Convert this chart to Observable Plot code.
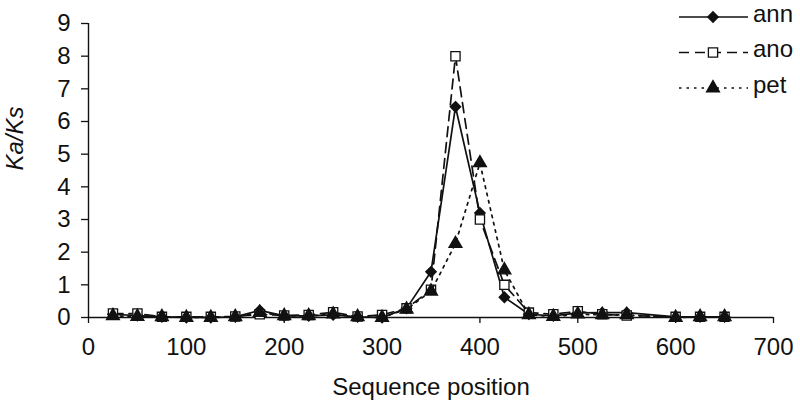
<!DOCTYPE html>
<html>
<head>
<meta charset="utf-8">
<script src="https://cdn.jsdelivr.net/npm/d3@7"></script>
<script src="https://cdn.jsdelivr.net/npm/@observablehq/plot@0.6"></script>
<style>
  html, body { margin: 0; padding: 0; background: #fff; }
  #wrap { position: relative; width: 800px; height: 404px; font-family: "Liberation Sans", Arial, sans-serif; }
  #wrap svg { display: block; }
</style>
</head>
<body>
<div id="wrap"></div>
<script>
// ---- data ----
const positions = [25,50,75,100,125,150,175,200,225,250,275,300,325,350,375,400,425,450,475,500,525,550,600,625,650];
const ann = [0.10,0.06,0.02,0.00,0.00,0.02,0.22,0.05,0.05,0.08,0.02,0.00,0.28,1.40,6.45,3.20,0.62,0.10,0.05,0.14,0.15,0.15,0.02,0.02,0.02];
const ano = [0.12,0.12,0.02,0.02,0.02,0.03,0.10,0.06,0.08,0.16,0.03,0.08,0.28,0.85,8.00,3.00,1.00,0.15,0.10,0.19,0.10,0.06,0.02,0.02,0.02];
const pet = [0.05,0.03,0.02,0.00,0.00,0.02,0.15,0.05,0.05,0.10,0.02,0.00,0.25,0.80,2.26,4.73,1.45,0.08,0.03,0.10,0.08,0.08,0.00,0.02,0.02];
const seriesNames = ["ann","ano","pet"];
const xTicks = [0,100,200,300,400,500,600,700];
const yTicks = [0,1,2,3,4,5,6,7,8,9];
const xLabel = "Sequence position";
const yLabel = "Ka/Ks";

const values = {ann, ano, pet};
const styles = {
  ann: {dash: null, symbol: "diamond2", d3symbol: d3.symbolDiamond2, fill: "#111", r: 4.7},
  ano: {dash: "10,6", symbol: "square", d3symbol: d3.symbolSquare, fill: "#fff", r: 5.2},
  pet: {dash: "2.5,5", symbol: "triangle", d3symbol: d3.symbolTriangle, fill: "#111", r: 4.8}
};
const ink = "#111";

const rows = seriesNames.flatMap(s => positions.map((x, i) => ({series: s, x, y: values[s][i]})));

const seriesMarks = seriesNames.flatMap(s => {
  const data = rows.filter(d => d.series === s);
  const st = styles[s];
  return [
    Plot.line(data, {x: "x", y: "y", stroke: ink, strokeWidth: 1.7, strokeDasharray: st.dash}),
    Plot.dot(data, {x: "x", y: "y", symbol: () => st.symbol, r: st.r, fill: st.fill, stroke: ink, strokeWidth: 1.3})
  ];
});

const chart = Plot.plot({
  width: 800,
  height: 404,
  marginLeft: 88,
  marginRight: 27,
  marginTop: 23,
  marginBottom: 87,
  style: {fontFamily: "'Liberation Sans', Arial, sans-serif", fontSize: "24px", color: ink, background: "#fff"},
  x: {domain: [0, 700]},
  y: {domain: [0, 9]},
  symbol: {type: "identity"},
  marks: [
    Plot.axisX({ticks: xTicks, tickSize: 6, tickPadding: 14, label: null, tickFormat: d => String(d), stroke: ink, strokeWidth: 1.3}),
    Plot.axisY({ticks: yTicks, tickSize: 7, tickPadding: 11, label: null, tickFormat: d => String(d), stroke: ink, strokeWidth: 1.3}),
    Plot.ruleY([0], {stroke: ink, strokeWidth: 1.4}),
    Plot.ruleX([0], {stroke: ink, strokeWidth: 1.4}),
    ...seriesMarks,
    Plot.text([xLabel], {frameAnchor: "bottom", dy: 77, lineAnchor: "bottom", fontSize: 24, fill: ink}),
    Plot.text([yLabel], {frameAnchor: "left", dx: -73, rotate: -90, lineAnchor: "middle", fontSize: 24, fontStyle: "italic", fill: ink})
  ]
});

const wrap = document.getElementById("wrap");
wrap.appendChild(chart);

// ---- legend (overlay) ----
const leg = d3.select(wrap).append("svg")
  .attr("width", 800).attr("height", 404)
  .style("position", "absolute").style("left", "0px").style("top", "0px")
  .style("pointer-events", "none");
seriesNames.forEach((s, i) => {
  const st = styles[s];
  const g = leg.append("g").attr("transform", `translate(0,${17 + i * 35.5})`);
  g.append("line").attr("x1", 679).attr("x2", 748).attr("y1", 0).attr("y2", 0)
    .attr("stroke", ink).attr("stroke-width", 1.7)
    .attr("stroke-dasharray", st.dash);
  g.append("path")
    .attr("d", d3.symbol(st.d3symbol, Math.PI * st.r * st.r)())
    .attr("transform", "translate(713,0)")
    .attr("fill", st.fill).attr("stroke", ink).attr("stroke-width", 1.3);
  g.append("text").attr("x", 753).attr("y", 0).attr("dy", "0.2em")
    .attr("font-family", "'Liberation Sans', Arial, sans-serif")
    .attr("font-size", 24).attr("fill", ink)
    .text(s);
});
</script>
</body>
</html>
